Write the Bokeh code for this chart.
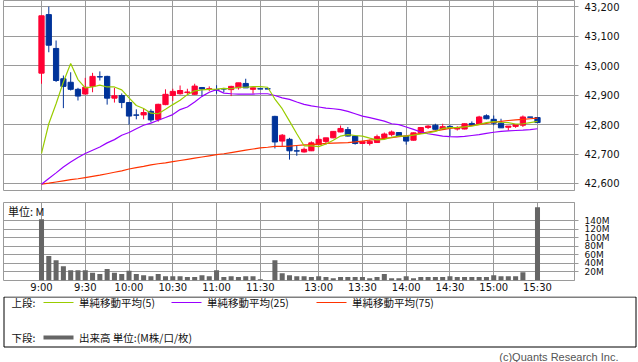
from bokeh.plotting import figure
from bokeh.layouts import column
from bokeh.models import ColumnDataSource, FixedTicker, NumeralTickFormatter, Range1d, Label
from bokeh.embed import file_html
from bokeh.resources import INLINE
from bokeh.core.properties import value

# ---------------- data (5-minute bars) ----------------
morning = [f"{h}:{m:02d}" for h in range(9, 12) for m in range(0, 60, 5) if (h, m) <= (11, 30)]
afternoon = [f"{h}:{m:02d}" for h in range(12, 16) for m in range(0, 60, 5) if (12, 30) <= (h, m) <= (15, 30)]
times = morning + [""] + afternoon   # "" = lunch-break separator slot

tick_labels = ["9:00", "9:30", "10:00", "10:30", "11:00", "11:30",
               "13:00", "13:30", "14:00", "14:30", "15:00", "15:30"]

opens = [42975, 43174, 43059, 42956, 42944, 42920, 42904, 42930, 42963, 42964,
         42890, 42899, 42875, 42833, 42833, 42845, 42817, 42868, 42899, 42905,
         42909, 42903, 42926, 42921, 42919, 42922, 42919, 42925, 42940, 42920,
         42922, 42922, 42828, 42744, 42750, 42711, 42707, 42711, 42732, 42743,
         42755, 42775, 42783, 42761, 42736, 42736, 42739, 42756, 42766, 42773,
         42761, 42747, 42772, 42790, 42798, 42785, 42794, 42785, 42785, 42804,
         42802, 42830, 42818, 42805, 42791, 42794, 42798, 42826, 42824]
highs = [43170, 43201, 43086, 42967, 42978, 42925, 42959, 42976, 42981, 42966,
         42925, 42906, 42877, 42852, 42854, 42852, 42871, 42920, 42922, 42933,
         42922, 42939, 42928, 42930, 42934, 42925, 42932, 42942, 42956, 42926,
         42922, 42922, 42830, 42768, 42755, 42729, 42722, 42743, 42764, 42755,
         42778, 42797, 42792, 42762, 42743, 42749, 42766, 42773, 42780, 42774,
         42762, 42773, 42792, 42798, 42803, 42803, 42798, 42795, 42804, 42811,
         42830, 42835, 42831, 42820, 42795, 42800, 42831, 42826, 42826]
lows = [42939, 43046, 42945, 42856, 42916, 42882, 42902, 42910, 42950, 42868,
        42875, 42856, 42800, 42818, 42818, 42808, 42810, 42866, 42880, 42902,
        42902, 42901, 42896, 42914, 42905, 42910, 42897, 42919, 42925, 42905,
        42921, 42921, 42719, 42727, 42681, 42694, 42705, 42710, 42731, 42732,
        42754, 42774, 42760, 42732, 42735, 42729, 42738, 42755, 42760, 42760,
        42732, 42746, 42770, 42785, 42783, 42782, 42761, 42780, 42784, 42797,
        42801, 42818, 42798, 42789, 42780, 42789, 42792, 42825, 42807]
closes = [43170, 43070, 42950, 42930, 42920, 42897, 42927, 42964, 42962, 42890,
          42898, 42875, 42829, 42832, 42841, 42816, 42869, 42903, 42913, 42916,
          42911, 42931, 42921, 42922, 42918, 42921, 42930, 42942, 42925, 42925,
          42921, 42921, 42741, 42764, 42711, 42710, 42716, 42738, 42750, 42755,
          42777, 42787, 42761, 42736, 42742, 42743, 42759, 42768, 42775, 42761,
          42744, 42772, 42790, 42795, 42784, 42793, 42790, 42790, 42803, 42798,
          42826, 42820, 42805, 42789, 42795, 42800, 42826, 42825, 42807]

ma5 = [42702, 42803, 42871, 42945, 43008, 42953, 42925, 42928, 42934, 42928,
       42928, 42918, 42891, 42865, 42855, 42839, 42837, 42852, 42868, 42883,
       42902, 42915, 42918, 42920, 42921, 42923, 42922, 42927, 42927, 42929,
       42929, 42927, 42887, 42854, 42812, 42769, 42728, 42728, 42725, 42734,
       42747, 42761, 42766, 42763, 42761, 42754, 42748, 42750, 42757, 42761,
       42761, 42764, 42768, 42772, 42777, 42787, 42790, 42790, 42792, 42795,
       42801, 42807, 42810, 42808, 42807, 42802, 42803, 42807, 42811]
ma25 = [42597, 42617, 42636, 42656, 42673, 42688, 42702, 42713, 42724, 42738,
        42749, 42764, 42773, 42786, 42798, 42805, 42815, 42824, 42834, 42851,
        42860, 42877, 42896, 42910, 42919, 42907, 42905, 42904, 42904, 42904,
        42905, 42905, 42899, 42891, 42886, 42877, 42869, 42864, 42860, 42856,
        42854, 42851, 42845, 42837, 42829, 42824, 42818, 42812, 42803, 42800,
        42792, 42784, 42775, 42769, 42765, 42761, 42759, 42758, 42760, 42763,
        42766, 42770, 42774, 42777, 42779, 42780, 42781, 42783, 42786]
ma75 = [42598, 42601, 42605, 42609, 42613, 42616, 42620, 42624, 42628, 42633,
        42638, 42643, 42649, 42654, 42658, 42663, 42667, 42670, 42674, 42678,
        42682, 42686, 42690, 42694, 42698, 42701, 42705, 42709, 42713, 42717,
        42721, 42723, 42726, 42726, 42727, 42729, 42731, 42732, 42734, 42736,
        42737, 42738, 42739, 42741, 42744, 42747, 42750, 42753, 42756, 42759,
        42762, 42766, 42770, 42775, 42779, 42783, 42787, 42790, 42793, 42797,
        42800, 42804, 42808, 42811, 42814, 42816, 42818, 42820, 42822]

volume_m = [143, 57, 47, 33, 24, 24, 24, 18, 15, 27,
            18, 15, 23, 15, 12, 10, 15, 10, 10, 10,
            8, 8, 12, 10, 24, 8, 10, 8, 10, 10,
            3, 0, 47, 17, 12, 10, 10, 8, 10, 8,
            5, 8, 8, 8, 8, 5, 8, 15, 5, 5,
            10, 5, 8, 8, 8, 8, 10, 8, 8, 8,
            8, 8, 12, 10, 10, 10, 19, 1, 171]

price_ticks = [42600, 42700, 42800, 42900, 43000, 43100, 43200]
volume_ticks = [20, 40, 60, 80, 100, 120, 140]

# ---------------- styling ----------------
UP = "#FF0033"
DOWN = "#003399"
GRID = "#9a9a9a"
C_MA5 = "#99CC00"
C_MA25 = "#9900FF"
C_MA75 = "#FF3300"
C_VOL = "#666666"
TICK_FONT = "DejaVu Sans"
JP_FONT = "Noto Sans CJK JP"
TXT = "#111111"

W = 638
FRAME_L, FRAME_W = 3, 571
BORDER_R = W - FRAME_L - FRAME_W

n = len(closes)
xs = list(range(n))
tick_slots = [i for i, t in enumerate(times) if t in tick_labels]
slot_px = 7.294
x_start = -38 / slot_px
x_end = x_start + FRAME_W / slot_px

src = ColumnDataSource(dict(
    x=xs, open=opens, high=highs, low=lows, close=closes,
    top=[max(o, c) for o, c in zip(opens, closes)],
    bottom=[min(o, c) for o, c in zip(opens, closes)],
    color=[UP if c > o else DOWN for o, c in zip(opens, closes)],
))


def style_right_axis(ax, size):
    ax.major_label_text_font = TICK_FONT
    ax.major_label_text_font_size = size
    ax.major_label_text_color = TXT
    ax.major_tick_out = 4
    ax.major_tick_in = 0
    ax.minor_tick_out = 0
    ax.minor_tick_in = 0
    ax.major_label_standoff = 6
    ax.axis_line_color = GRID
    ax.major_tick_line_color = GRID


# ---------------- price panel ----------------
p1 = figure(width=W, height=191, x_range=Range1d(x_start, x_end),
            y_range=Range1d(42576, 43222), x_axis_location=None,
            y_axis_location="right", toolbar_location=None, output_backend="svg",
            min_border_left=FRAME_L, min_border_right=BORDER_R,
            min_border_top=0, min_border_bottom=1)
p1.outline_line_color = GRID
p1.border_fill_color = "white"
p1.xgrid.ticker = FixedTicker(ticks=tick_slots)
p1.xgrid.grid_line_color = GRID
p1.ygrid.grid_line_color = GRID
ya = p1.yaxis[0]
ya.ticker = FixedTicker(ticks=price_ticks)
ya.formatter = NumeralTickFormatter(format="0,0")
style_right_axis(ya, "10px")

p1.segment(x0="x", y0="low", x1="x", y1="high", line_color="color", line_width=1, source=src)
p1.vbar(x="x", width=0.72, top="top", bottom="bottom", fill_color="color",
        line_color="color", line_width=1, source=src)
p1.line(xs, ma75, line_color=C_MA75, line_width=1.2)
p1.line(xs, ma25, line_color=C_MA25, line_width=1.2)
p1.line(xs, ma5, line_color=C_MA5, line_width=1.2)

# ---------------- volume panel ----------------
p2 = figure(width=W, height=105, x_range=p1.x_range, y_range=Range1d(0, 182),
            y_axis_location="right", toolbar_location=None, output_backend="svg",
            min_border_left=FRAME_L, min_border_right=BORDER_R,
            min_border_top=11, min_border_bottom=16)
p2.outline_line_color = GRID
p2.border_fill_color = "white"
p2.vbar(x=xs, top=volume_m, width=0.69, fill_color=C_VOL, line_color=None)

xa = p2.xaxis[0]
xa.ticker = FixedTicker(ticks=tick_slots)
xa.major_label_overrides = {s: lab for s, lab in zip(tick_slots, tick_labels)}
xa.major_label_text_font = TICK_FONT
xa.major_label_text_font_size = "10px"
xa.major_label_text_color = TXT
xa.major_tick_out = 0
xa.major_tick_in = 0
xa.minor_tick_out = 0
xa.minor_tick_in = 0
xa.major_label_standoff = 1
xa.axis_line_color = None

va = p2.yaxis[0]
va.ticker = FixedTicker(ticks=volume_ticks)
va.major_label_overrides = {v: f"{v}M" for v in volume_ticks}
style_right_axis(va, "9px")
p2.xgrid.grid_line_color = GRID
p2.ygrid.grid_line_color = GRID

p2.add_layout(Label(x=x_start + 0.6, y=181, text="単位: M", text_baseline="top",
                    text_font=JP_FONT, text_font_size="11px", text_color=TXT))

# ---------------- legend panel (separate root, not frame-aligned) ----------------
H3 = 66
p3 = figure(width=W, height=H3, x_range=Range1d(0, W), y_range=Range1d(0, H3),
            toolbar_location=None, output_backend="svg",
            x_axis_location=None, y_axis_location=None,
            min_border_left=0, min_border_right=0, min_border_top=0, min_border_bottom=0)
p3.grid.visible = False
p3.outline_line_color = None
p3.border_fill_color = "white"
p3.quad(left=[3.5], right=[635.5], top=[H3 - 0.5], bottom=[H3 - 50.5], fill_color=None,
        line_color="black", line_width=1)

row1, row2 = H3 - 6, H3 - 41
LEG_FS = "10.5px"
legend_items = [("単純移動平均(5)", C_MA5, 43), ("単純移動平均(25)", C_MA25, 171), ("単純移動平均(75)", C_MA75, 316)]
p3.text(x=[11], y=[row1], text=["上段:"], text_font=value(JP_FONT), text_font_size=LEG_FS,
        text_baseline="middle", text_color=TXT)
for lab, col, x0 in legend_items:
    p3.segment(x0=[x0], y0=[row1], x1=[x0 + 30], y1=[row1], line_color=col, line_width=1)
    p3.text(x=[x0 + 35.5], y=[row1], text=[lab], text_font=value(JP_FONT), text_font_size=LEG_FS,
            text_baseline="middle", text_color=TXT)
p3.text(x=[11], y=[row2], text=["下段:"], text_font=value(JP_FONT), text_font_size=LEG_FS,
        text_baseline="middle", text_color=TXT)
p3.segment(x0=[43], y0=[row2], x1=[73], y1=[row2], line_color=C_VOL, line_width=4)
p3.text(x=[78.5], y=[row2], text=["出来高 単位:(M株/口/枚)"], text_font=value(JP_FONT),
        text_font_size=LEG_FS, text_baseline="middle", text_color=TXT)
p3.text(x=[618], y=[5.5], text=["(c)Quants Research Inc."], text_font=value("Liberation Sans"),
        text_font_size="11px", text_baseline="middle", text_align="right", text_color="#555555")

layout = column(p1, p2, spacing=0)
open("out.html", "w").write(file_html([layout, p3], INLINE, title="chart"))
